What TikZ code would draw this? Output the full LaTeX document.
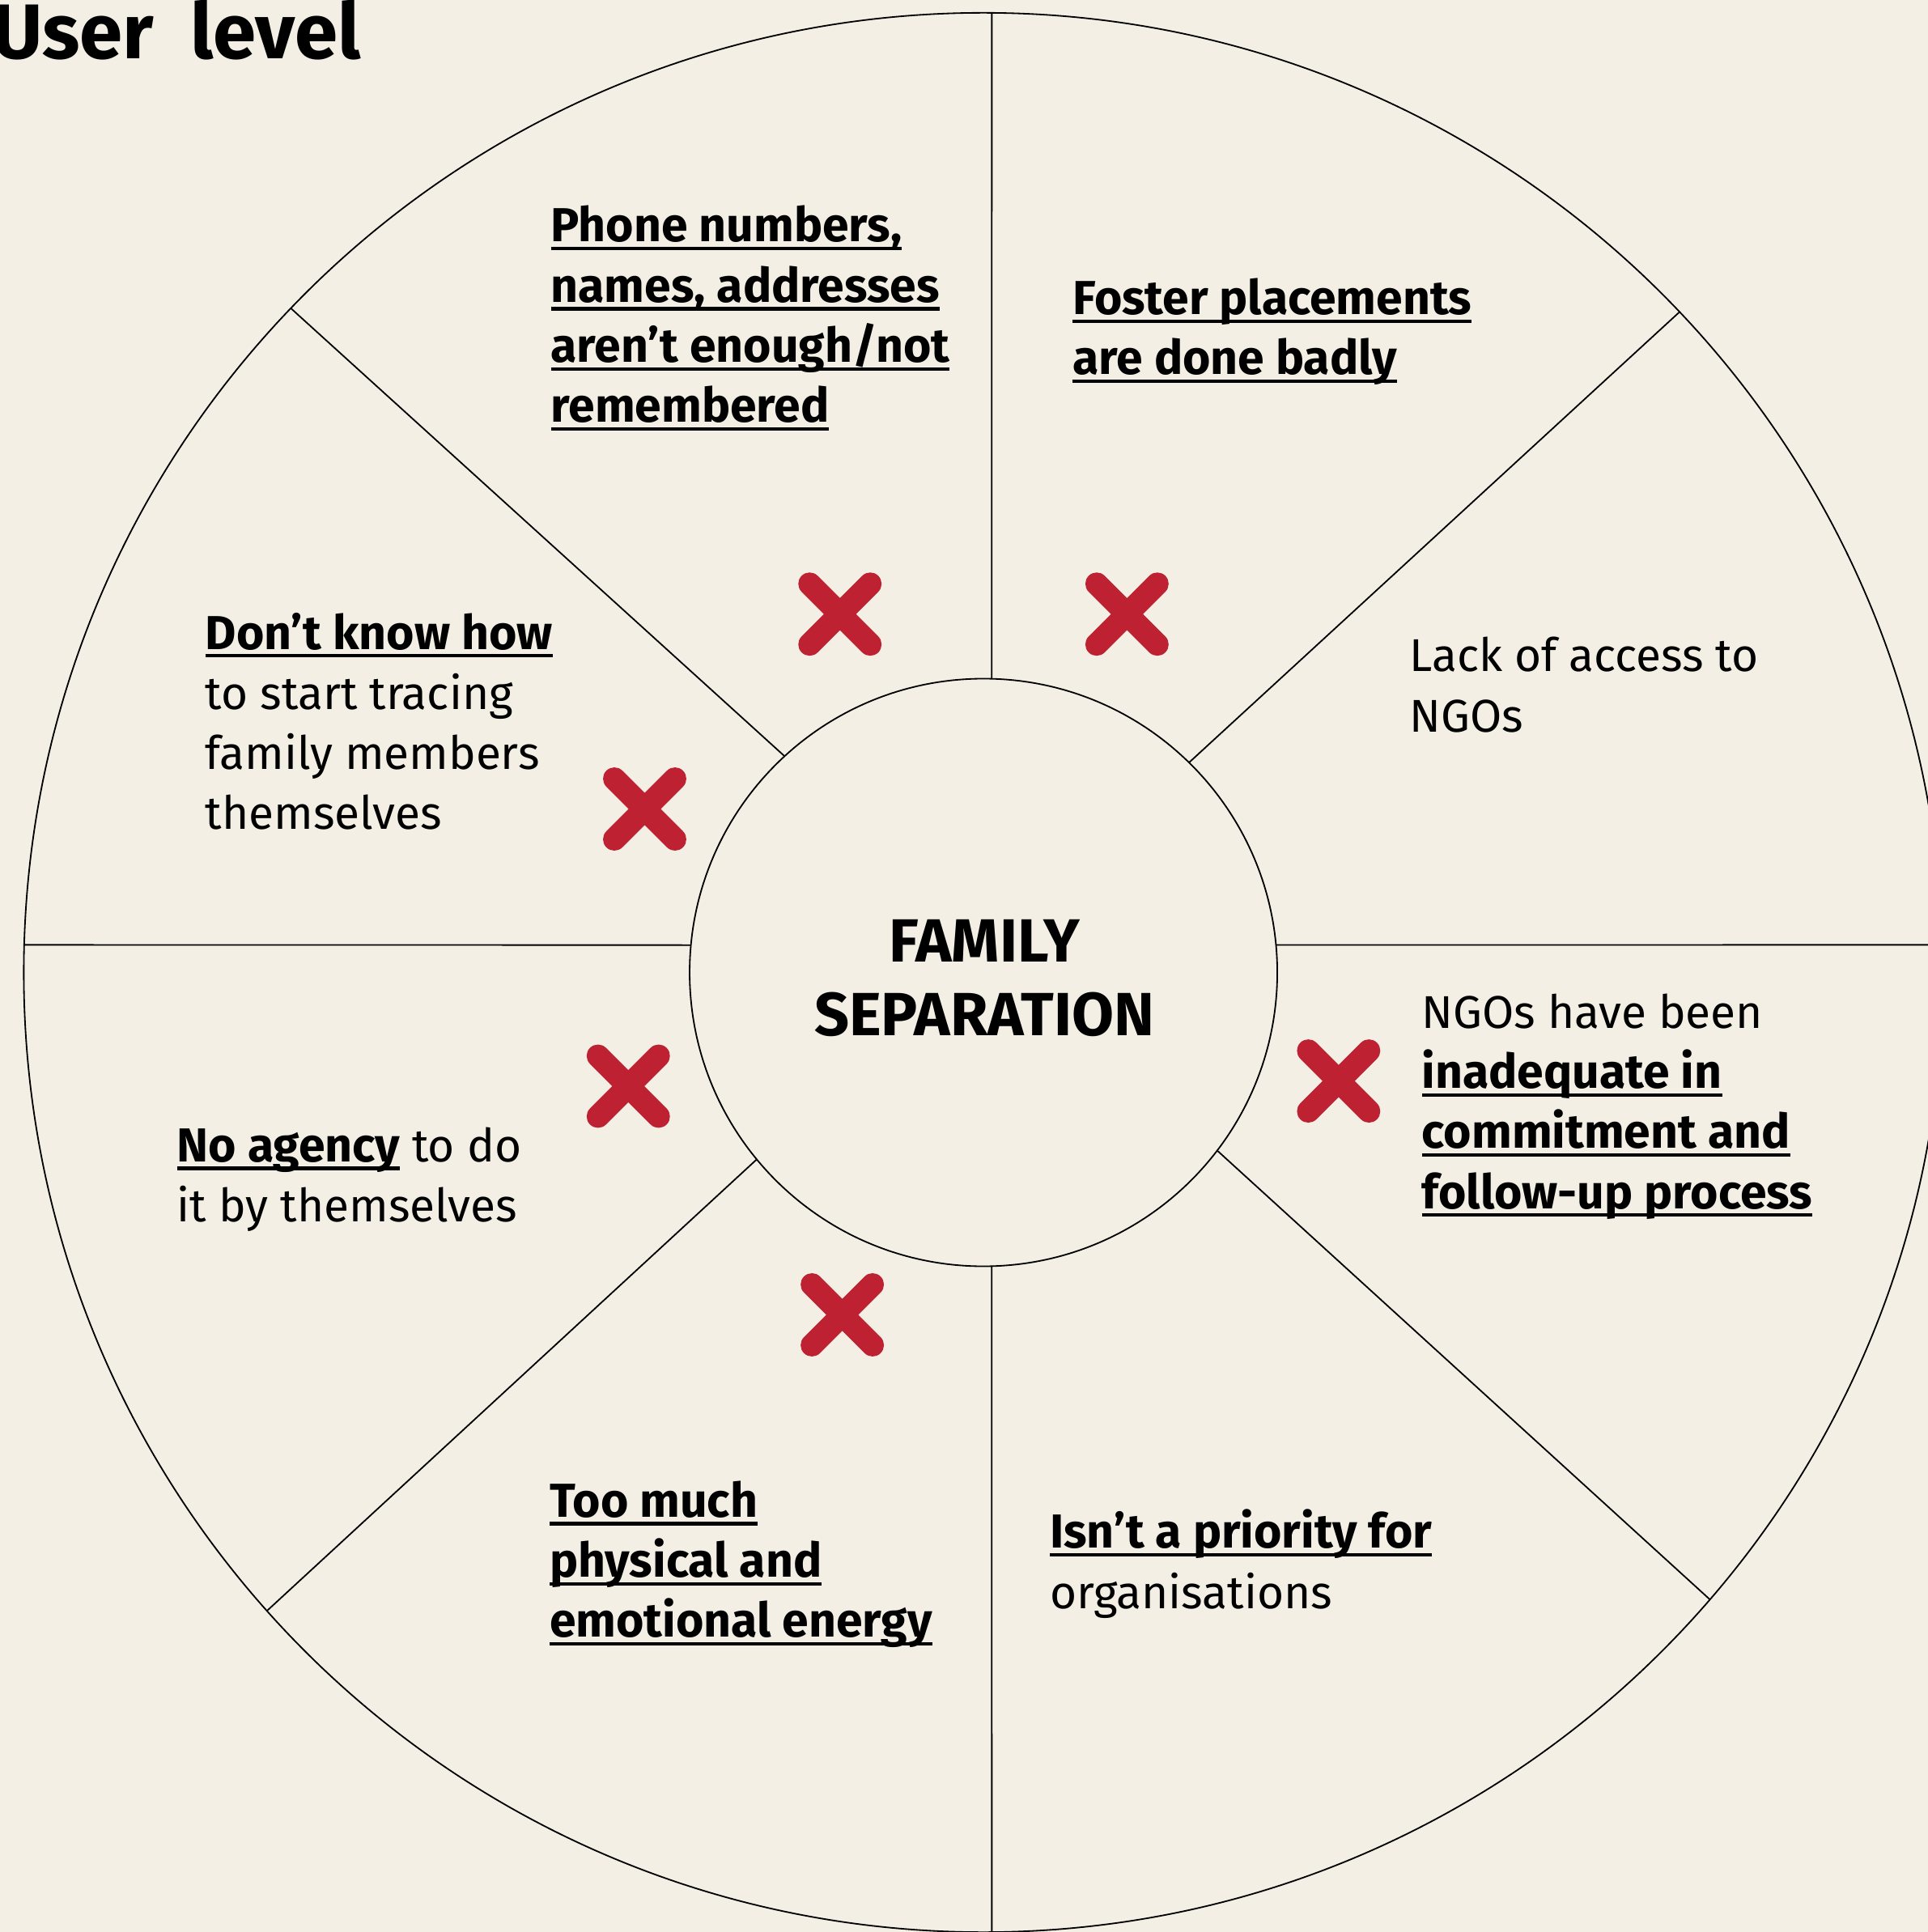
\documentclass[tikz,border=0pt]{standalone}
\usepackage{fontspec}
\setmainfont{Fira Sans}
\definecolor{paper}{RGB}{243,239,228}
\definecolor{crossred}{RGB}{190,34,50}
\newcommand{\ulbox}[1]{\setbox0\hbox{#1}\rlap{\smash{\rule[-6.8pt]{\wd0}{2.8pt}}}\box0\relax}
\newcommand{\hl}[1]{\ulbox{\fontsize{38.7}{48.8}\selectfont\bfseries #1}}
\begin{document}
\begin{tikzpicture}[x=1pt,y=-1pt,
  rim/.style={circle,draw,line width=1.2pt,minimum size=1558pt,inner sep=0pt,outer sep=0pt},
  hub/.style={circle,draw,line width=1.2pt,minimum size=477pt,inner sep=0pt,outer sep=0pt},
  spoke/.style={draw,line width=1.2pt},
  note/.style={anchor=base west,align=left,inner sep=0pt,font=\fontsize{37.3}{48.8}\selectfont},
  hubtext/.style={anchor=base,align=center,inner sep=0pt,font=\fontsize{49.5}{59.7}\selectfont\bfseries},
  heading/.style={anchor=base east,inner sep=0pt,font=\fontsize{63}{70}\selectfont\bfseries},
  xmark/.pic={\draw[crossred,line width=18.4pt,line cap=round] (-24.6,-24.6) -- (24.6,24.6) (-24.6,24.6) -- (24.6,-24.6);}]
  \fill[paper] (0,0) rectangle (1565,1568.3);
  \useasboundingbox (0,0) rectangle (1565,1568.3);

  \node[rim] (rim) at (798.3,789.4) {};
  \node[hub] (hub) at (798.3,789.4) {};
  \node[hubtext] (sep) at (799,840.7) {FAMILY\\SEPARATION};
  \node[heading] (level) at (293,47.8) {User~~level};

  \path[spoke] ([shift={(88.4:238.5pt)}]hub.center) edge ([shift={(89.5:779pt)}]rim.center)
               ([shift={(271.6:238.5pt)}]hub.center) edge ([shift={(270.5:779pt)}]rim.center)
               ([shift={(174.65:238.5pt)}]hub.center) edge ([shift={(178.35:779pt)}]rim.center)
               ([shift={(5.38:238.5pt)}]hub.center) edge ([shift={(1.65:779pt)}]rim.center)
               ([shift={(132.6:238.5pt)}]hub.center) edge ([shift={(136.2:779pt)}]rim.center)
               ([shift={(45.6:238.5pt)}]hub.center) edge ([shift={(43.5:779pt)}]rim.center)
               ([shift={(219.5:238.5pt)}]hub.center) edge ([shift={(221.7:779pt)}]rim.center)
               ([shift={(322.7:238.5pt)}]hub.center) edge ([shift={(319.2:779pt)}]rim.center);

  \node[note] (phone) at (447,342.8) {\hl{Phone numbers,}\\\hl{names, addresses}\\\hl{aren’t enough/not}\\\hl{remembered}};
  \node[note] (foster) at (870.6,304) {\hl{Foster placements}\\\hl{are done badly}};
  \node[note] (access) at (1144,594) {Lack of access to\\NGOs};
  \node[note] (ngos) at (1154,981) {NGOs have been\\\hl{inadequate in}\\\hl{commitment and}\\\hl{follow-up process}};
  \node[note] (priority) at (852,1305.5) {\hl{Isn’t a priority for}\\organisations};
  \node[note] (energy) at (446,1329) {\hl{Too much}\\\hl{physical and}\\\hl{emotional energy}};
  \node[note] (agency) at (143.5,991.8) {\hl{No agency} to do\\it by themselves};
  \node[note] (tracing) at (166.5,673.4) {\hl{Don’t know how}\\to start tracing\\family members\\themselves};

  \pic (x1) at (681.8,498.5) {xmark};
  \pic (x2) at (914.8,498.5) {xmark};
  \pic (x3) at (523.3,656.7) {xmark};
  \pic (x4) at (510,881.7) {xmark};
  \pic (x5) at (1086.6,877.5) {xmark};
  \pic (x6) at (683.7,1067.3) {xmark};
\end{tikzpicture}
\end{document}
